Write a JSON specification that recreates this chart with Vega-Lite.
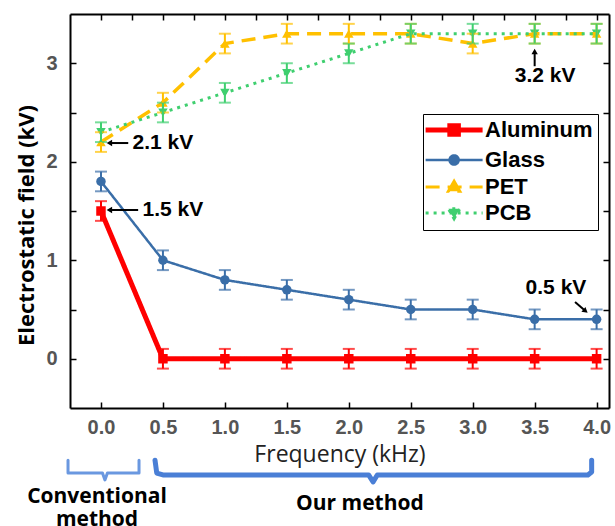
{
  "$schema": "https://vega.github.io/schema/vega-lite/v6.json",
  "width": 539,
  "height": 394,
  "autosize": {"type": "none"},
  "padding": {"left": 70, "top": 14, "right": 6, "bottom": 118},
  "background": "white",
  "datasets": {
    "main": [
      {"series": "Aluminum", "freq": 0.0, "value": 1.5, "err": 0.1},
      {"series": "Aluminum", "freq": 0.5, "value": 0.0, "err": 0.1},
      {"series": "Aluminum", "freq": 1.0, "value": 0.0, "err": 0.1},
      {"series": "Aluminum", "freq": 1.5, "value": 0.0, "err": 0.1},
      {"series": "Aluminum", "freq": 2.0, "value": 0.0, "err": 0.1},
      {"series": "Aluminum", "freq": 2.5, "value": 0.0, "err": 0.1},
      {"series": "Aluminum", "freq": 3.0, "value": 0.0, "err": 0.1},
      {"series": "Aluminum", "freq": 3.5, "value": 0.0, "err": 0.1},
      {"series": "Aluminum", "freq": 4.0, "value": 0.0, "err": 0.1},
      {"series": "Glass", "freq": 0.0, "value": 1.8, "err": 0.1},
      {"series": "Glass", "freq": 0.5, "value": 1.0, "err": 0.1},
      {"series": "Glass", "freq": 1.0, "value": 0.8, "err": 0.1},
      {"series": "Glass", "freq": 1.5, "value": 0.7, "err": 0.1},
      {"series": "Glass", "freq": 2.0, "value": 0.6, "err": 0.1},
      {"series": "Glass", "freq": 2.5, "value": 0.5, "err": 0.1},
      {"series": "Glass", "freq": 3.0, "value": 0.5, "err": 0.1},
      {"series": "Glass", "freq": 3.5, "value": 0.4, "err": 0.1},
      {"series": "Glass", "freq": 4.0, "value": 0.4, "err": 0.1},
      {"series": "PET", "freq": 0.0, "value": 2.2, "err": 0.1},
      {"series": "PET", "freq": 0.5, "value": 2.6, "err": 0.1},
      {"series": "PET", "freq": 1.0, "value": 3.2, "err": 0.1},
      {"series": "PET", "freq": 1.5, "value": 3.3, "err": 0.1},
      {"series": "PET", "freq": 2.0, "value": 3.3, "err": 0.1},
      {"series": "PET", "freq": 2.5, "value": 3.3, "err": 0.1},
      {"series": "PET", "freq": 3.0, "value": 3.2, "err": 0.1},
      {"series": "PET", "freq": 3.5, "value": 3.3, "err": 0.1},
      {"series": "PET", "freq": 4.0, "value": 3.3, "err": 0.1},
      {"series": "PCB", "freq": 0.0, "value": 2.3, "err": 0.1},
      {"series": "PCB", "freq": 0.5, "value": 2.5, "err": 0.1},
      {"series": "PCB", "freq": 1.0, "value": 2.7, "err": 0.1},
      {"series": "PCB", "freq": 1.5, "value": 2.9, "err": 0.1},
      {"series": "PCB", "freq": 2.0, "value": 3.1, "err": 0.1},
      {"series": "PCB", "freq": 2.5, "value": 3.3, "err": 0.1},
      {"series": "PCB", "freq": 3.0, "value": 3.3, "err": 0.1},
      {"series": "PCB", "freq": 3.5, "value": 3.3, "err": 0.1},
      {"series": "PCB", "freq": 4.0, "value": 3.3, "err": 0.1}
    ],
    "notes": [
      {"freq": 0.5, "value": 2.19, "label": "2.1 kV"},
      {"freq": 0.58, "value": 1.51, "label": "1.5 kV"},
      {"freq": 3.584, "value": 2.87, "label": "3.2 kV"},
      {"freq": 3.672, "value": 0.718, "label": "0.5 kV"}
    ],
    "arrows": [
      {"freq": 0.07, "value": 2.19, "freq2": 0.22, "value2": 2.19},
      {"freq": 0.07, "value": 1.51, "freq2": 0.30, "value2": 1.51},
      {"freq": 3.5, "value": 2.97, "freq2": 3.5, "value2": 3.12},
      {"freq": 3.826, "value": 0.576, "freq2": 3.91, "value2": 0.485}
    ],
    "heads": [
      {"freq": 0.075, "value": 2.19, "dir": 270},
      {"freq": 0.075, "value": 1.51, "dir": 270},
      {"freq": 3.5, "value": 3.11, "dir": 0},
      {"freq": 3.905, "value": 0.49, "dir": 130}
    ],
    "braces": [
      {"brace": "conv", "ord": 1, "freq": -0.266, "value": -1.03},
      {"brace": "conv", "ord": 2, "freq": -0.266, "value": -1.16},
      {"brace": "conv", "ord": 3, "freq": 0.012, "value": -1.16},
      {"brace": "conv", "ord": 4, "freq": 0.032, "value": -1.23},
      {"brace": "conv", "ord": 5, "freq": 0.052, "value": -1.16},
      {"brace": "conv", "ord": 6, "freq": 0.307, "value": -1.16},
      {"brace": "conv", "ord": 7, "freq": 0.307, "value": -1.03},
      {"brace": "ours", "ord": 1, "freq": 0.436, "value": -1.03},
      {"brace": "ours", "ord": 2, "freq": 0.45, "value": -1.16},
      {"brace": "ours", "ord": 3, "freq": 0.5, "value": -1.18},
      {"brace": "ours", "ord": 4, "freq": 2.16, "value": -1.18},
      {"brace": "ours", "ord": 5, "freq": 2.196, "value": -1.25},
      {"brace": "ours", "ord": 6, "freq": 2.23, "value": -1.18},
      {"brace": "ours", "ord": 7, "freq": 3.93, "value": -1.18},
      {"brace": "ours", "ord": 8, "freq": 3.96, "value": -1.15},
      {"brace": "ours", "ord": 9, "freq": 3.96, "value": -1.03}
    ],
    "captions": [
      {"freq": -0.032, "value": -1.464, "label": "Conventional\nmethod"},
      {"freq": 2.09, "value": -1.536, "label": "Our method"}
    ]
  },
  "config": {
    "view": {"stroke": null},
    "axis": {
      "grid": false,
      "domainColor": "black",
      "domainWidth": 2,
      "tickColor": "black",
      "tickWidth": 1.5,
      "tickSize": -6,
      "labelFont": "Liberation Sans",
      "labelFontSize": 20,
      "labelFontWeight": "bold",
      "labelColor": "#555555"
    },
    "legend": {
      "orient": "none",
      "legendX": 353,
      "legendY": 100,
      "strokeColor": "black",
      "fillColor": "white",
      "padding": 5,
      "rowPadding": 4,
      "labelFont": "Liberation Sans",
      "labelFontSize": 22,
      "labelFontWeight": "bold",
      "labelColor": "black",
      "labelOffset": 35,
      "symbolSize": 100
    }
  },
  "resolve": {"axis": {"x": "independent", "y": "independent"}},
  "layer": [
    {
      "data": {"name": "main"},
      "mark": {"type": "point", "filled": true, "opacity": 1},
      "encoding": {
        "x": {
          "field": "freq", "type": "quantitative",
          "scale": {"domain": [-0.25, 4.1], "nice": false, "zero": false},
          "axis": {"orient": "top", "values": [0, 0.25, 0.5, 0.75, 1, 1.25, 1.5, 1.75, 2, 2.25, 2.5, 2.75, 3, 3.25, 3.5, 3.75, 4], "labels": true, "labelExpr": "''", "title": " "}
        },
        "y": {
          "field": "value", "type": "quantitative",
          "scale": {"domain": [-0.5, 3.5], "nice": false, "zero": false},
          "axis": {"orient": "right", "values": [0, 0.5, 1, 1.5, 2, 2.5, 3], "labels": true, "labelExpr": "''", "title": " "}
        },
        "color": {
          "field": "series", "type": "nominal",
          "scale": {"domain": ["Aluminum", "Glass", "PET", "PCB"], "range": ["#ff0000", "#3a6ea8", "#ffc000", "#3fcf6f"]},
          "legend": {
            "title": null,
            "encode": {
              "symbols": {
                "update": {
                  "shape": {"signal": "datum.value === 'Aluminum' ? 'M-0.47,0L1.53,0M0.38,-0.15L0.68,-0.15L0.68,0.15L0.38,0.15Z' : datum.value === 'Glass' ? 'M-0.47,0L1.53,0M0.69,0A0.16,0.16,0,1,1,0.37,0A0.16,0.16,0,1,1,0.69,0Z' : datum.value === 'PET' ? 'M-0.47,0L1.53,0M0.53,-0.2L0.73,0.15L0.33,0.15Z' : 'M-0.47,0L1.53,0M0.53,0.2L0.73,-0.15L0.33,-0.15Z'"},
                  "size": {"value": 3249},
                  "fill": {"signal": "scale('color', datum.value)"},
                  "stroke": {"signal": "scale('color', datum.value)"},
                  "strokeWidth": {"signal": "datum.value === 'Aluminum' ? 5 : datum.value === 'Glass' ? 2.5 : 3"},
                  "strokeDash": {"signal": "datum.value === 'PET' ? [14, 8] : datum.value === 'PCB' ? [3, 5] : [1, 0]"},
                  "opacity": {"value": 1},
                  "fillOpacity": {"value": 1},
                  "strokeOpacity": {"value": 1}
                }
              }
            }
          }
        },
        "shape": {
          "field": "series", "type": "nominal",
          "scale": {"domain": ["PCB", "PET", "Glass", "Aluminum"], "range": ["triangle-down", "triangle-up", "circle", "square"]},
          "legend": null
        },
        "size": {"value": 90}
      }
    },
    {
      "data": {"name": "main"},
      "mark": {"type": "line"},
      "encoding": {
        "x": {
          "field": "freq", "type": "quantitative",
          "axis": {
            "orient": "bottom",
            "values": [0, 0.5, 1, 1.5, 2, 2.5, 3, 3.5, 4],
            "format": ".1f",
            "labelPadding": 15,
            "title": "Frequency (kHz)",
            "titleFont": "Open Sans",
            "titleFontSize": 23,
            "titleFontWeight": "normal",
            "titleColor": "#222222",
            "titleBaseline": "alphabetic",
            "titleY": 53
          }
        },
        "y": {
          "field": "value", "type": "quantitative",
          "axis": {
            "orient": "left",
            "values": [0, 0.5, 1, 1.5, 2, 2.5, 3],
            "labelExpr": "datum.value % 1 === 0 ? format(datum.value, 'd') : ''",
            "labelPadding": 19,
            "title": "Electrostatic field (kV)",
            "titleFont": "Open Sans",
            "titleFontSize": 22,
            "titleFontWeight": "bold",
            "titleColor": "black",
            "titleBaseline": "middle",
            "titleX": -44,
            "titleY": 211
          }
        },
        "color": {
          "field": "series", "type": "nominal",
          "legend": {
            "title": null,
            "encode": {
              "symbols": {
                "update": {
                  "shape": {"signal": "datum.value === 'Aluminum' ? 'M-0.47,0L1.53,0M0.38,-0.15L0.68,-0.15L0.68,0.15L0.38,0.15Z' : datum.value === 'Glass' ? 'M-0.47,0L1.53,0M0.69,0A0.16,0.16,0,1,1,0.37,0A0.16,0.16,0,1,1,0.69,0Z' : datum.value === 'PET' ? 'M-0.47,0L1.53,0M0.53,-0.2L0.73,0.15L0.33,0.15Z' : 'M-0.47,0L1.53,0M0.53,0.2L0.73,-0.15L0.33,-0.15Z'"},
                  "size": {"value": 3249},
                  "fill": {"signal": "scale('color', datum.value)"},
                  "stroke": {"signal": "scale('color', datum.value)"},
                  "strokeWidth": {"signal": "datum.value === 'Aluminum' ? 5 : datum.value === 'Glass' ? 2.5 : 3"},
                  "strokeDash": {"signal": "datum.value === 'PET' ? [14, 8] : datum.value === 'PCB' ? [3, 5] : [1, 0]"},
                  "opacity": {"value": 1},
                  "fillOpacity": {"value": 1},
                  "strokeOpacity": {"value": 1}
                }
              }
            }
          }
        },
        "strokeDash": {
          "field": "series", "type": "nominal",
          "scale": {"domain": ["Glass", "Aluminum", "PCB", "PET"], "range": [[1, 0], [1, 0], [3, 5], [14, 8]]},
          "legend": null
        },
        "strokeWidth": {
          "field": "series", "type": "nominal",
          "scale": {"type": "ordinal", "domain": ["PET", "PCB", "Aluminum", "Glass"], "range": [3.5, 3, 5, 2.5]},
          "legend": null
        }
      }
    },
    {
      "data": {"name": "main"},
      "mark": {"type": "errorbar", "ticks": {"size": 12, "thickness": 2}, "thickness": 2},
      "encoding": {
        "x": {"field": "freq", "type": "quantitative", "axis": null},
        "y": {"field": "value", "type": "quantitative", "axis": null},
        "yError": {"field": "err"},
        "color": {"field": "series", "type": "nominal"}
      }
    },
    {
      "data": {"name": "arrows"},
      "mark": {"type": "rule", "color": "black", "strokeWidth": 2},
      "encoding": {
        "x": {"field": "freq", "type": "quantitative", "axis": null},
        "y": {"field": "value", "type": "quantitative", "axis": null},
        "x2": {"field": "freq2"},
        "y2": {"field": "value2"}
      }
    },
    {
      "data": {"name": "heads"},
      "mark": {"type": "point", "shape": "triangle", "filled": true, "color": "black", "opacity": 1, "size": 40},
      "encoding": {
        "x": {"field": "freq", "type": "quantitative", "axis": null},
        "y": {"field": "value", "type": "quantitative", "axis": null},
        "angle": {"field": "dir", "type": "quantitative", "scale": null}
      }
    },
    {
      "data": {"name": "notes"},
      "mark": {"type": "text", "font": "Liberation Sans", "fontSize": 21, "fontWeight": "bold", "color": "black", "align": "center", "baseline": "middle"},
      "encoding": {
        "x": {"field": "freq", "type": "quantitative", "axis": null},
        "y": {"field": "value", "type": "quantitative", "axis": null},
        "text": {"field": "label"}
      }
    },
    {
      "data": {"name": "braces"},
      "transform": [{"filter": "datum.brace === 'conv'"}],
      "mark": {"type": "line", "color": "#6a98e0", "strokeWidth": 3, "strokeJoin": "round", "strokeCap": "round"},
      "encoding": {
        "x": {"field": "freq", "type": "quantitative", "axis": null},
        "y": {"field": "value", "type": "quantitative", "axis": null},
        "order": {"field": "ord"}
      }
    },
    {
      "data": {"name": "braces"},
      "transform": [{"filter": "datum.brace === 'ours'"}],
      "mark": {"type": "line", "color": "#4a7fd6", "strokeWidth": 5, "strokeJoin": "round", "strokeCap": "round"},
      "encoding": {
        "x": {"field": "freq", "type": "quantitative", "axis": null},
        "y": {"field": "value", "type": "quantitative", "axis": null},
        "order": {"field": "ord"}
      }
    },
    {
      "data": {"name": "captions"},
      "mark": {"type": "text", "font": "Open Sans", "fontSize": 21, "fontWeight": "bold", "color": "black", "align": "center", "baseline": "alphabetic", "lineBreak": "\n", "lineHeight": 23},
      "encoding": {
        "x": {"field": "freq", "type": "quantitative", "axis": null},
        "y": {"field": "value", "type": "quantitative", "axis": null},
        "text": {"field": "label"}
      }
    }
  ]
}
